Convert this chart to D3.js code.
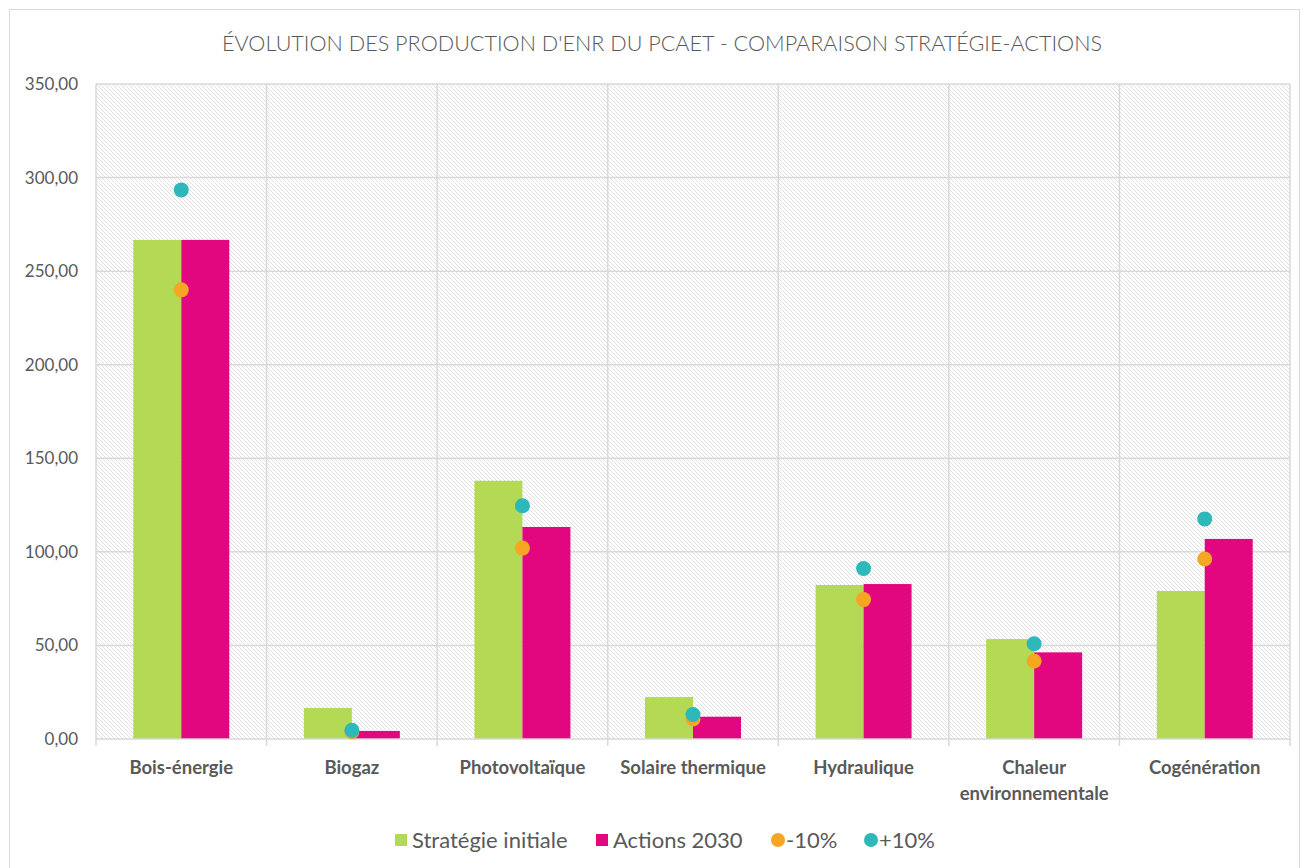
<!DOCTYPE html>
<html>
  <head>
    <meta charset="UTF-8">
    <title>Évolution des production d'ENR du PCAET</title>
    <script src="https://cdn.jsdelivr.net/npm/d3@7"></script>
    <style>
      body { margin: 0; background: #ffffff; font-family: Lato, "Open Sans", sans-serif; }
      text { fill: #595959; }
    </style>
  </head>
  <body>
    <script>
      // data
      var categories = ["Bois-énergie", "Biogaz", "Photovoltaïque", "Solaire thermique",
                        "Hydraulique", "Chaleur environnementale", "Cogénération"];
      var strategie = [266.7, 16.6, 138.0, 22.4, 82.3, 53.4, 79.1];
      var actions   = [266.7, 4.3, 113.3, 11.9, 82.8, 46.3, 106.9];
      var moins10   = [240.0, 3.9, 102.0, 10.7, 74.5, 41.7, 96.2];
      var plus10    = [293.4, 4.7, 124.6, 13.1, 91.1, 50.9, 117.6];
      var yTicks = [0, 50, 100, 150, 200, 250, 300, 350];

      var W = 1304, H = 868;
      var plotL = 96, plotR = 1290, plotT = 84, plotB = 739;

      var svg = d3.select("body").append("svg")
        .attr("width", W)
        .attr("height", H);

      // hatched background pattern
      var defs = svg.append("defs");
      var pat = defs.append("pattern")
        .attr("id", "hatch")
        .attr("patternUnits", "userSpaceOnUse")
        .attr("width", 4)
        .attr("height", 4);
      pat.append("rect").attr("width", 4).attr("height", 4).attr("fill", "#ffffff");
      pat.append("path")
        .attr("d", "M-1,-1 L5,5 M-1,3 L1,5 M3,-1 L5,1")
        .attr("stroke", "#e0e0e0")
        .attr("stroke-width", 1);

      // outer frame
      svg.append("rect")
        .attr("x", 9.5).attr("y", 9.5)
        .attr("width", 1290).attr("height", 870)
        .attr("fill", "#ffffff")
        .attr("stroke", "#d9d9d9")
        .attr("stroke-width", 1);

      var x = d3.scaleBand().domain(categories).range([plotL, plotR]).padding(0);
      var y = d3.scaleLinear().domain([0, 350]).range([plotB, plotT]);
      var barW = 48;

      // plot area
      svg.append("rect")
        .attr("x", plotL).attr("y", plotT)
        .attr("width", plotR - plotL).attr("height", plotB - plotT)
        .attr("fill", "url(#hatch)");

      // horizontal gridlines
      svg.append("g").selectAll("line")
        .data(yTicks.slice(1))
        .enter().append("line")
        .attr("x1", plotL).attr("x2", plotR)
        .attr("y1", function (d) { return y(d); })
        .attr("y2", function (d) { return y(d); })
        .attr("stroke", "#d9d9d9")
        .attr("stroke-width", 1.5);

      // vertical gridlines
      var vx = categories.map(function (c) { return x(c); }).concat([plotR]);
      svg.append("g").selectAll("line")
        .data(vx)
        .enter().append("line")
        .attr("x1", function (d) { return d; })
        .attr("x2", function (d) { return d; })
        .attr("y1", plotT).attr("y2", plotB)
        .attr("stroke", "#d9d9d9")
        .attr("stroke-width", 1.5);

      // y axis labels
      svg.append("g").selectAll("text")
        .data(yTicks)
        .enter().append("text")
        .attr("x", 78)
        .attr("y", function (d) { return y(d); })
        .attr("dy", "0.35em")
        .attr("text-anchor", "end")
        .style("font-size", "17px")
        .text(function (d) { return d3.format(".2f")(d).replace(".", ","); });

      // bars
      var cx = function (i) { return x(categories[i]) + x.bandwidth() / 2; };
      svg.append("g").selectAll("rect")
        .data(strategie)
        .enter().append("rect")
        .attr("x", function (d, i) { return cx(i) - barW; })
        .attr("y", function (d) { return y(d); })
        .attr("width", barW)
        .attr("height", function (d) { return plotB - y(d); })
        .attr("fill", "#b4d955");
      svg.append("g").selectAll("rect")
        .data(actions)
        .enter().append("rect")
        .attr("x", function (d, i) { return cx(i); })
        .attr("y", function (d) { return y(d); })
        .attr("width", barW)
        .attr("height", function (d) { return plotB - y(d); })
        .attr("fill", "#e2077e");

      // x axis line and ticks
      svg.append("line")
        .attr("x1", plotL).attr("x2", plotR)
        .attr("y1", plotB).attr("y2", plotB)
        .attr("stroke", "#d9d9d9").attr("stroke-width", 1.5);
      svg.append("g").selectAll("line")
        .data(vx)
        .enter().append("line")
        .attr("x1", function (d) { return d; })
        .attr("x2", function (d) { return d; })
        .attr("y1", plotB).attr("y2", plotB + 7)
        .attr("stroke", "#d9d9d9").attr("stroke-width", 1.5);

      // dots
      svg.append("g").selectAll("circle")
        .data(moins10)
        .enter().append("circle")
        .attr("cx", function (d, i) { return cx(i); })
        .attr("cy", function (d) { return y(d); })
        .attr("r", 7.5)
        .attr("fill", "#f6a623");
      svg.append("g").selectAll("circle")
        .data(plus10)
        .enter().append("circle")
        .attr("cx", function (d, i) { return cx(i); })
        .attr("cy", function (d) { return y(d); })
        .attr("r", 7.5)
        .attr("fill", "#2eb8ba");

      // category labels
      var labels = svg.append("g").selectAll("text")
        .data(categories)
        .enter().append("text")
        .attr("x", function (d, i) { return cx(i); })
        .attr("y", 774)
        .attr("text-anchor", "middle")
        .style("font-size", "18.5px")
        .style("font-weight", "bold");
      labels.each(function (d) {
        var t = d3.select(this);
        var parts = d === "Chaleur environnementale" ? ["Chaleur", "environnementale"] : [d];
        parts.forEach(function (p, k) {
          t.append("tspan")
            .attr("x", t.attr("x"))
            .attr("dy", k === 0 ? 0 : "1.4em")
            .text(p);
        });
      });

      // title
      svg.append("text")
        .attr("x", 662)
        .attr("y", 51)
        .attr("text-anchor", "middle")
        .style("font-size", "22px")
        .style("font-weight", "300")
        .attr("textLength", 880)
        .attr("lengthAdjust", "spacingAndGlyphs")
        .text("ÉVOLUTION DES PRODUCTION D'ENR DU PCAET - COMPARAISON STRATÉGIE-ACTIONS");

      // legend
      var legend = [
        { name: "Stratégie initiale", color: "#b4d955", shape: "rect", x: 395 },
        { name: "Actions 2030", color: "#e2077e", shape: "rect", x: 596 },
        { name: "-10%", color: "#f6a623", shape: "circle", x: 771 },
        { name: "+10%", color: "#2eb8ba", shape: "circle", x: 864 }
      ];
      var lg = svg.append("g").selectAll("g")
        .data(legend)
        .enter().append("g")
        .attr("transform", function (d) { return "translate(" + d.x + ",840)"; });
      lg.each(function (d) {
        var g = d3.select(this);
        if (d.shape === "rect") {
          g.append("rect").attr("x", 0).attr("y", -6).attr("width", 12).attr("height", 12).attr("fill", d.color);
        } else {
          g.append("circle").attr("cx", 7).attr("cy", 0).attr("r", 7).attr("fill", d.color);
        }
        g.append("text")
          .attr("x", d.shape === "rect" ? 17 : 15)
          .attr("y", 0)
          .attr("dy", "0.35em")
          .style("font-size", "22px")
          .text(d.name);
      });
    </script>
  </body>
</html>
